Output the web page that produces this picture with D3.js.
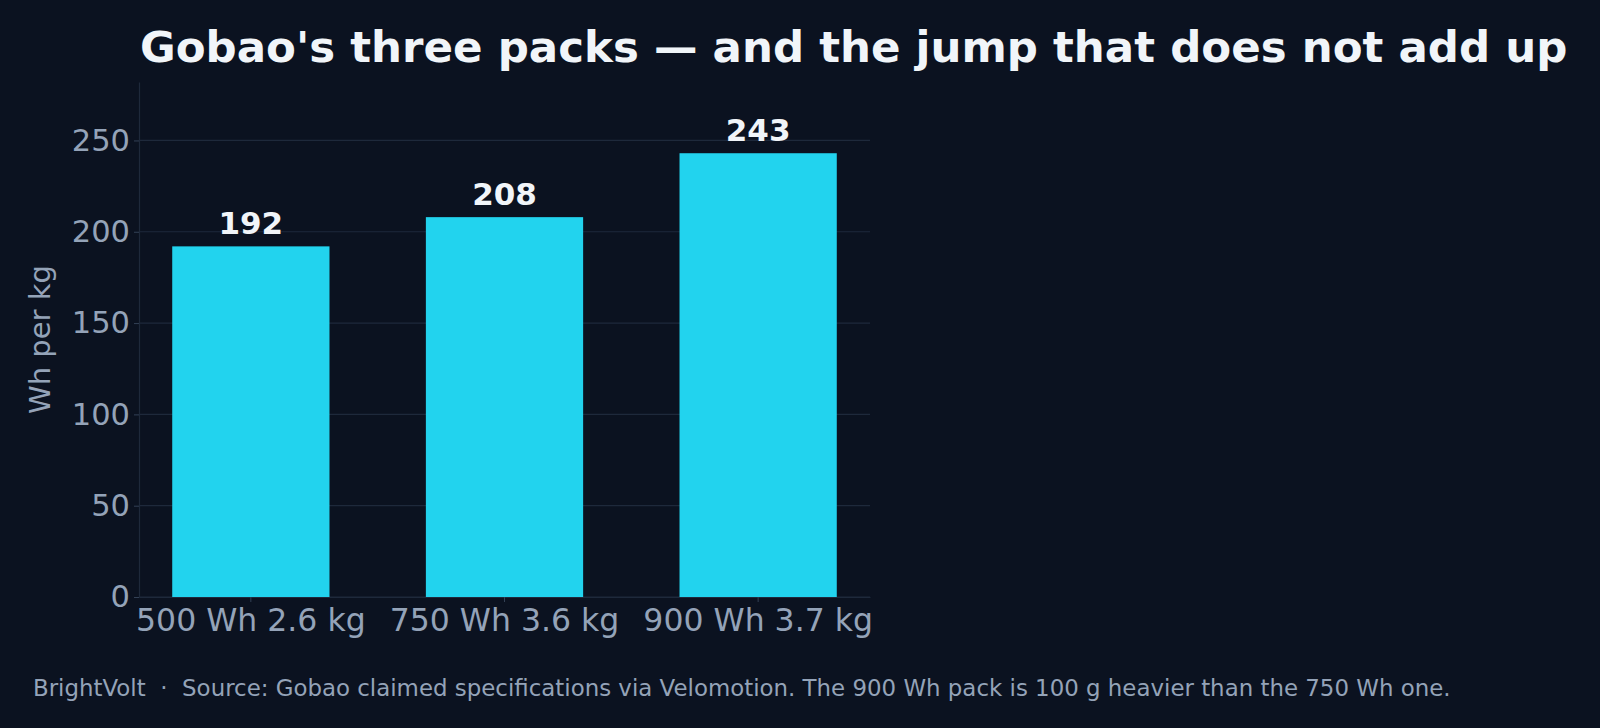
<!DOCTYPE html>
<html lang="en">
<head>
<meta charset="UTF-8">
<title>Gobao's three packs</title>
<script src="https://d3js.org/d3.v7.min.js"></script>
<style>
  body { margin: 0; background: #0b1220; }
  svg { display: block; }
  text { font-family: "DejaVu Sans", sans-serif; }
</style>
</head>
<body>
<div id="chart"></div>
<script>
// data
const packs = ["500 Wh 2.6 kg", "750 Wh 3.6 kg", "900 Wh 3.7 kg"];
const whPerKg = [192, 208, 243];
const yTicks = [0, 50, 100, 150, 200, 250];

const W = 1600, H = 728;
const margin = {top: 82, right: 730, bottom: 131, left: 139};
const plotW = W - margin.left - margin.right,
      plotH = H - margin.top - margin.bottom;

const svg = d3.select("#chart").append("svg")
    .attr("width", W)
    .attr("height", H)
    .style("background", "#0b1220");

const g = svg.append("g")
    .attr("transform", "translate(" + margin.left + "," + margin.top + ")");

const x = d3.scaleBand()
    .domain(packs)
    .range([0, plotW])
    .paddingInner(0.38)
    .paddingOuter(0.131);

const y = d3.scaleLinear().domain([0, 282]).range([plotH, 0]);

// grid lines
g.selectAll(".grid")
    .data(yTicks)
    .enter().append("line")
    .attr("x1", 0)
    .attr("x2", plotW)
    .attr("y1", d => y(d))
    .attr("y2", d => y(d))
    .attr("stroke", "#1e293b")
    .attr("stroke-width", 1.2);

// bars
g.selectAll(".bar")
    .data(whPerKg)
    .enter().append("rect")
    .attr("x", (d, i) => x(packs[i]))
    .attr("width", x.bandwidth())
    .attr("y", d => y(d))
    .attr("height", d => plotH - y(d))
    .attr("fill", "#22d3ee");

// value labels
g.selectAll(".val")
    .data(whPerKg)
    .enter().append("text")
    .attr("x", (d, i) => x(packs[i]) + x.bandwidth() / 2)
    .attr("y", d => y(d) - 12)
    .attr("text-anchor", "middle")
    .attr("font-size", 31)
    .attr("font-weight", "bold")
    .attr("fill", "#f1f5f9")
    .text(d => d);

// axes
const yAxis = g.append("g")
    .call(d3.axisLeft(y).tickValues(yTicks).tickSize(5).tickSizeOuter(0).tickPadding(4));
const xAxis = g.append("g")
    .attr("transform", "translate(0," + plotH + ")")
    .call(d3.axisBottom(x).tickSize(5).tickSizeOuter(0).tickPadding(5));

[yAxis, xAxis].forEach(a => {
  a.select(".domain").attr("stroke", "#1e293b").attr("stroke-width", 1.2);
  a.selectAll(".tick line").attr("stroke", "#334155");
  a.selectAll(".tick text")
      .attr("fill", "#94a3b8")
      .attr("font-family", "DejaVu Sans");
});
yAxis.selectAll(".tick text").attr("font-size", 30.5);
xAxis.selectAll(".tick text").attr("font-size", 31.5).attr("dy", "0.75em");

// y label
svg.append("text")
    .attr("transform", "translate(50," + (margin.top + plotH / 2) + ") rotate(-90)")
    .attr("text-anchor", "middle")
    .attr("font-size", 29)
    .attr("fill", "#94a3b8")
    .text("Wh per kg");

// title
svg.append("text")
    .attr("x", margin.left + 1)
    .attr("y", 62)
    .attr("font-size", 43.5)
    .attr("font-weight", "bold")
    .attr("fill", "#f1f5f9")
    .text("Gobao's three packs \u2014 and the jump that does not add up");

// footer
svg.append("text")
    .attr("x", 33)
    .attr("y", 696)
    .attr("font-size", 22.9)
    .attr("fill", "#94a3b8")
    .attr("xml:space", "preserve")
    .text("BrightVolt  \u00b7  Source: Gobao claimed specifications via Velomotion. The 900 Wh pack is 100 g heavier than the 750 Wh one.");
</script>
</body>
</html>
